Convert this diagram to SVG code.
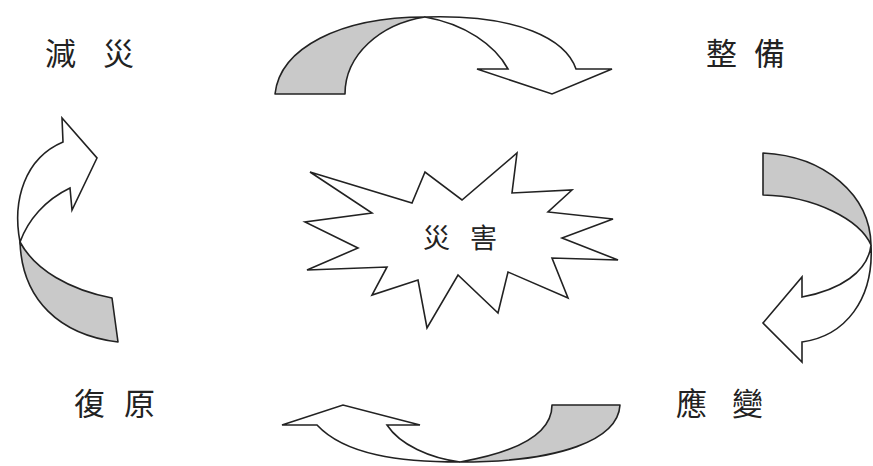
<svg xmlns="http://www.w3.org/2000/svg" width="873" height="466" viewBox="0 0 873 466">
<style>
.band{fill:#c9c9c9;stroke:#222;stroke-width:1.6;stroke-linejoin:round}
.head{fill:#fff;stroke:#222;stroke-width:1.6;stroke-linejoin:miter}
.star{fill:#fff;stroke:#222;stroke-width:1.6;stroke-linejoin:miter}
.lbl{font-family:"Noto Sans CJK TC","Noto Sans CJK SC",sans-serif;font-size:31px;fill:#222}
.ctr{font-family:"Noto Sans CJK TC","Noto Sans CJK SC",sans-serif;font-size:27px;fill:#222}
</style>
<rect width="873" height="466" fill="#fff"/>
<g id="connectors">
  <g id="arrow-top">
    <path class="band" d="M275,94 C280,48 340,17 425,17 C380,24 345,55 345,94 Z"/>
    <path class="head" d="M425,17 C520,14 566,40 576,69 L612,69 L552,94 L477,69 L508,69 C495,45 465,24 425,17 Z"/>
  </g>
  <g id="arrow-right">
    <path class="band" d="M763,153 C825,156 870,195 871,245 C860,220 815,196 763,195 Z"/>
    <path class="head" d="M871,245 C874,300 845,336 802,342 L802,362 L763,323 L802,277 L802,297 C840,290 868,272 871,245 Z"/>
  </g>
  <g id="arrow-bottom">
    <path class="band" d="M620,405 C618,440 560,462 460,462 C500,455 552,440 552,405 Z"/>
    <path class="head" d="M460,462 C400,462 345,455 317,425 L282,425 L343,405 L420,425 L387,425 C400,445 430,458 460,462 Z"/>
  </g>
  <g id="arrow-left">
    <path class="band" d="M20,242 C22,300 60,335 118,342 L112,298 C70,290 35,270 20,242 Z"/>
    <path class="head" d="M20,242 C12,200 25,158 63,142 L62,118 L97,158 L72,210 L70,188 C45,200 28,220 20,242 Z"/>
  </g>
</g>
<g id="node-disaster">
  <polygon class="star" points="310,172 412,203 425,172 462,200 517,153 512,193 572,190 548,212 613,219 562,238 618,260 552,258 568,298 508,272 498,313 458,275 427,328 418,280 372,295 387,267 307,270 358,248 305,222 372,213"/>
  <text class="ctr" x="423 470" y="248">災害</text>
</g>
<g id="node-mitigation"><text class="lbl" x="45 103" y="65">減災</text></g>
<g id="node-preparedness"><text class="lbl" x="706 754" y="65">整備</text></g>
<g id="node-response"><text class="lbl" x="676 732" y="415">應變</text></g>
<g id="node-recovery"><text class="lbl" x="74 124" y="415">復原</text></g>
</svg>
